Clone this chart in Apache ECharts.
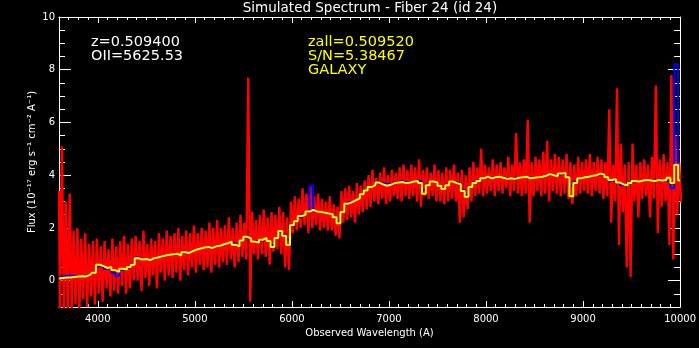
<!DOCTYPE html>
<html>
<head>
<meta charset="utf-8">
<script src="https://cdn.jsdelivr.net/npm/echarts@6/dist/echarts.min.js"></script>
<style>html,body{margin:0;padding:0;background:#000;}#c{width:699px;height:348px;}</style>
</head>
<body>
<div id="c"></div>
<script>
// Wavelength grid: bins start at 3600 A, 40 A wide (161 bins up to 10000 A)
const binStart = 3600, binWidth = 40;

// Observed flux (red): per-bin upper and lower excursion of the noisy spectrum
const redHigh = [
  3.4,5.1,3.0,3.3,1.9,2.0,1.6,1.8,1.4,1.5,
  1.6,1.3,1.5,1.2,1.6,1.3,1.5,1.7,1.4,1.6,
  1.7,1.5,1.9,1.4,1.6,1.5,1.8,1.6,1.9,1.7,
  1.8,2.0,1.7,1.9,1.8,2.1,1.8,2.0,1.9,2.2,
  2.0,2.3,2.0,2.1,2.4,2.0,2.2,2.5,2.2,7.7,
  2.6,2.3,2.5,2.7,2.4,2.6,2.5,2.8,2.6,2.4,
  3.0,3.2,3.1,3.5,3.3,3.6,3.2,3.3,3.1,3.0,
  3.2,2.9,2.8,3.4,3.5,3.6,3.4,3.7,3.6,3.8,
  4.0,4.2,3.9,4.1,4.3,4.0,4.2,4.1,4.3,4.4,
  4.2,4.4,4.3,4.6,4.2,4.3,4.1,4.4,4.2,4.1,
  4.3,4.2,4.4,4.1,4.2,4.0,4.3,4.5,4.3,5.0,
  4.4,4.3,4.6,4.4,4.5,4.3,4.7,4.4,5.6,4.5,
  4.6,6.1,4.5,4.7,4.6,4.9,5.3,4.6,4.8,4.7,
  4.6,4.8,4.5,4.4,4.7,4.5,4.6,4.8,4.5,4.7,
  4.6,4.5,6.5,4.4,7.3,5.2,4.4,4.5,5.2,4.4,
  4.5,4.6,4.4,4.7,7.4,4.6,4.8,4.5,7.8,5.5,
  4.5
];
const redLow = [
  -1.2,-1.2,-1.2,-1.1,-0.9,-1.1,-0.7,-1.0,-0.6,-0.9,
  -0.5,-0.8,-0.3,-0.6,-0.4,-0.5,-0.2,-0.5,-0.3,0.0,
  0.0,-0.4,0.1,-0.2,0.2,-0.3,0.3,0.0,0.2,0.1,
  0.3,0.0,0.4,0.2,0.5,0.3,0.6,0.4,0.5,0.3,
  0.6,0.5,0.7,0.6,0.8,0.5,0.7,0.9,0.8,-0.8,
  1.0,0.8,1.0,0.9,0.6,1.1,1.2,1.0,0.5,0.4,
  1.8,1.9,2.0,2.1,1.8,2.0,2.1,1.9,2.0,1.9,
  1.9,1.7,1.6,2.2,2.3,2.4,2.2,2.5,2.6,2.7,
  2.8,3.0,2.9,3.1,2.9,3.0,3.2,3.1,3.0,3.2,
  3.1,3.2,3.0,2.8,3.2,3.1,3.2,3.0,3.0,2.9,
  3.0,3.1,3.0,2.2,2.4,2.7,3.0,3.2,3.3,3.2,
  3.3,3.4,3.2,3.4,3.3,3.5,3.2,3.4,3.3,3.2,
  3.3,2.2,3.2,3.4,3.2,3.3,3.0,3.4,3.3,3.2,
  3.3,3.1,2.9,3.2,3.3,3.4,3.3,3.2,3.4,3.3,
  3.1,3.2,2.2,3.0,1.35,2.6,0.5,0.14,3.0,2.4,
  3.1,3.2,2.4,3.1,1.8,2.8,3.0,1.35,0.8,2.5,
  3.0
];
// Model (blue)
const modelFlux = [
  0.15,0.16,0.18,0.20,0.18,0.17,0.16,0.18,0.22,0.30,
  0.55,0.55,0.45,0.50,0.30,0.18,0.40,0.42,0.50,0.62,
  0.88,0.82,0.82,0.80,0.84,0.88,0.92,0.94,0.98,1.00,
  1.00,0.98,1.06,1.06,1.12,1.18,1.22,1.25,1.28,1.26,
  1.30,1.33,1.38,1.42,1.46,1.40,1.34,1.52,1.64,1.60,
  1.50,1.48,1.55,1.60,1.50,1.35,1.62,1.85,1.75,1.55,
  2.05,2.25,2.42,2.50,2.60,3.60,2.62,2.60,2.58,2.55,
  2.52,2.40,2.22,2.60,2.90,2.98,3.05,3.12,3.28,3.42,
  3.55,3.62,3.74,3.70,3.66,3.68,3.72,3.74,3.78,3.74,
  3.74,3.76,3.80,3.76,3.45,3.65,3.76,3.74,3.62,3.50,
  3.64,3.76,3.72,3.68,3.45,3.25,3.55,3.72,3.80,3.88,
  3.92,3.90,3.92,3.94,3.92,3.88,3.88,3.88,3.90,3.92,
  3.94,3.90,3.90,3.92,3.94,3.98,4.02,4.02,3.98,4.04,
  4.06,3.95,3.60,3.75,3.88,3.92,3.94,3.98,4.00,4.04,
  4.00,3.90,3.80,3.78,3.70,3.62,3.64,3.72,3.78,3.78,
  3.80,3.80,3.80,3.80,3.80,3.80,3.80,3.75,3.50,8.20,
  3.80
];
// Smoothed spectrum (yellow)
const smoothFlux = [
  0.08,0.10,0.12,0.12,0.14,0.16,0.17,0.16,0.22,0.30,
  0.60,0.55,0.48,0.52,0.40,0.33,0.45,0.42,0.52,0.60,
  0.85,0.80,0.82,0.78,0.85,0.88,0.92,0.95,0.98,1.00,
  1.02,0.95,1.08,1.05,1.12,1.18,1.22,1.26,1.28,1.24,
  1.30,1.32,1.38,1.42,1.48,1.36,1.30,1.52,1.66,1.60,
  1.48,1.45,1.55,1.62,1.50,1.28,1.62,1.88,1.70,1.35,
  2.10,2.25,2.45,2.50,2.62,2.68,2.62,2.60,2.58,2.55,
  2.52,2.40,2.18,2.60,2.92,2.98,3.05,3.12,3.28,3.42,
  3.55,3.62,3.72,3.65,3.60,3.64,3.70,3.72,3.74,3.70,
  3.72,3.76,3.78,3.70,3.30,3.62,3.76,3.72,3.60,3.48,
  3.62,3.76,3.70,3.66,3.40,3.18,3.55,3.70,3.78,3.88,
  3.94,3.88,3.92,3.94,3.90,3.86,3.88,3.86,3.90,3.92,
  3.94,3.88,3.90,3.92,3.94,3.98,4.04,4.00,3.96,4.06,
  4.08,3.92,3.20,3.70,3.88,3.92,3.94,3.98,4.00,4.06,
  4.02,3.92,3.82,3.85,3.72,3.65,3.62,3.70,3.78,3.76,
  3.80,3.82,3.80,3.78,3.82,3.80,3.82,3.90,3.70,4.40,
  3.80
];
// Tick labels
const xMajorTicks = [4000,5000,6000,7000,8000,9000,10000];
const yMajorTicks = [0,2,4,6,8,10];

const redData = [], modelData = [], smoothData = [];
for (let i = 0; i < redHigh.length; i++) {
  const lam = binStart + binWidth * i;
  redData.push([lam, redHigh[i]]);
  redData.push([lam + binWidth / 2, redLow[i]]);
}
modelFlux.forEach((v, i) => modelData.push([binStart + binWidth * i, v]));
smoothFlux.forEach((v, i) => smoothData.push([binStart + binWidth * i, v]));

const xMinorTicks = [];
for (let t = 3700; t < 10000; t += 100) if (t % 1000 !== 0) xMinorTicks.push(t);
const yMinorTicks = [];
for (let t = -0.5; t < 10; t += 0.5) if (t % 2 !== 0) yMinorTicks.push(t);

const W = '#ffffff';
const FONT = 'DejaVu Sans';
const plain = v => String(v);

function xAx(pos, ticks, len, showLine, showLabel) {
  return {
    type: 'value', min: 3600, max: 10000, position: pos,
    axisLine: { show: showLine, onZero: false, lineStyle: { color: W, width: 1 } },
    axisTick: { show: true, inside: true, length: len, customValues: ticks, lineStyle: { color: W, width: 1 } },
    axisLabel: showLabel ? { show: true, customValues: xMajorTicks, formatter: plain, color: W, fontFamily: FONT, fontSize: 10, margin: 7 } : { show: false },
    splitLine: { show: false }
  };
}
function yAx(pos, ticks, len, showLine, showLabel) {
  return {
    type: 'value', min: -1, max: 10, position: pos,
    axisLine: { show: showLine, onZero: false, lineStyle: { color: W, width: 1 } },
    axisTick: { show: true, inside: true, length: len, customValues: ticks, lineStyle: { color: W, width: 1 } },
    axisLabel: showLabel ? { show: true, customValues: yMajorTicks, formatter: plain, color: W, fontFamily: FONT, fontSize: 10, margin: 4 } : { show: false },
    splitLine: { show: false }
  };
}

const xa0 = xAx('bottom', xMajorTicks, 6, true, true);
xa0.name = 'Observed Wavelength (A)';
xa0.nameLocation = 'middle';
xa0.nameGap = 26;
xa0.nameMoveOverlap = false;
xa0.nameTextStyle = { color: W, fontFamily: FONT, fontSize: 10, align: 'center', verticalAlign: 'middle' };
const ya0 = yAx('left', yMajorTicks, 12, true, true);
ya0.name = 'Flux (10\u207B\u00B9\u2077 erg s\u207B\u00B9 cm\u207B\u00B2 A\u207B\u00B9)';
ya0.nameLocation = 'middle';
ya0.nameRotate = 90;
ya0.nameGap = 27;
ya0.nameMoveOverlap = false;
ya0.nameTextStyle = { color: W, fontFamily: FONT, fontSize: 10, align: 'center', verticalAlign: 'middle' };

const annFont = '14.5px "DejaVu Sans"';
const chart = echarts.init(document.getElementById('c'));
chart.setOption({
  backgroundColor: '#000000',
  animation: false,
  grid: { left: 59, right: 17, top: 17, bottom: 41, containLabel: false },
  xAxis: [
    xa0,
    xAx('bottom', xMinorTicks, 3, false, false),
    xAx('top', xMajorTicks, 6, true, false),
    xAx('top', xMinorTicks, 3, false, false)
  ],
  yAxis: [
    ya0,
    yAx('left', yMinorTicks, 6, false, false),
    yAx('right', yMajorTicks, 12, true, false),
    yAx('right', yMinorTicks, 6, false, false)
  ],
  series: [
    { type: 'line', name: 'flux', data: redData, step: 'middle', showSymbol: false, symbol: 'none',
      xAxisIndex: 0, yAxisIndex: 0, lineStyle: { color: '#ff0000', width: 2.4 }, clip: true },
    { type: 'line', name: 'model', data: modelData, step: 'middle', showSymbol: false, symbol: 'none',
      xAxisIndex: 0, yAxisIndex: 0, lineStyle: { color: '#0000ff', width: 2 }, clip: true },
    { type: 'line', name: 'smooth', data: smoothData, step: 'middle', showSymbol: false, symbol: 'none',
      xAxisIndex: 0, yAxisIndex: 0, lineStyle: { color: '#ffff00', width: 2 }, clip: true }
  ],
  graphic: [
    { type: 'text', x: 370, y: 8, style: { text: 'Simulated Spectrum - Fiber 24 (id 24)', fill: W, font: '13.5px "DejaVu Sans"', align: 'center', verticalAlign: 'middle' } },
    { type: 'text', x: 91, y: 42, style: { text: 'z=0.509400', fill: W, font: annFont, align: 'left', verticalAlign: 'middle' } },
    { type: 'text', x: 91, y: 56, style: { text: 'OII=5625.53', fill: W, font: annFont, align: 'left', verticalAlign: 'middle' } },
    { type: 'text', x: 308, y: 42, style: { text: 'zall=0.509520', fill: '#ffff00', font: annFont, align: 'left', verticalAlign: 'middle' } },
    { type: 'text', x: 308, y: 56, style: { text: 'S/N=5.38467', fill: '#ffff00', font: annFont, align: 'left', verticalAlign: 'middle' } },
    { type: 'text', x: 308, y: 70, style: { text: 'GALAXY', fill: '#ffff00', font: annFont, align: 'left', verticalAlign: 'middle' } }
  ]
});
</script>
</body>
</html>
